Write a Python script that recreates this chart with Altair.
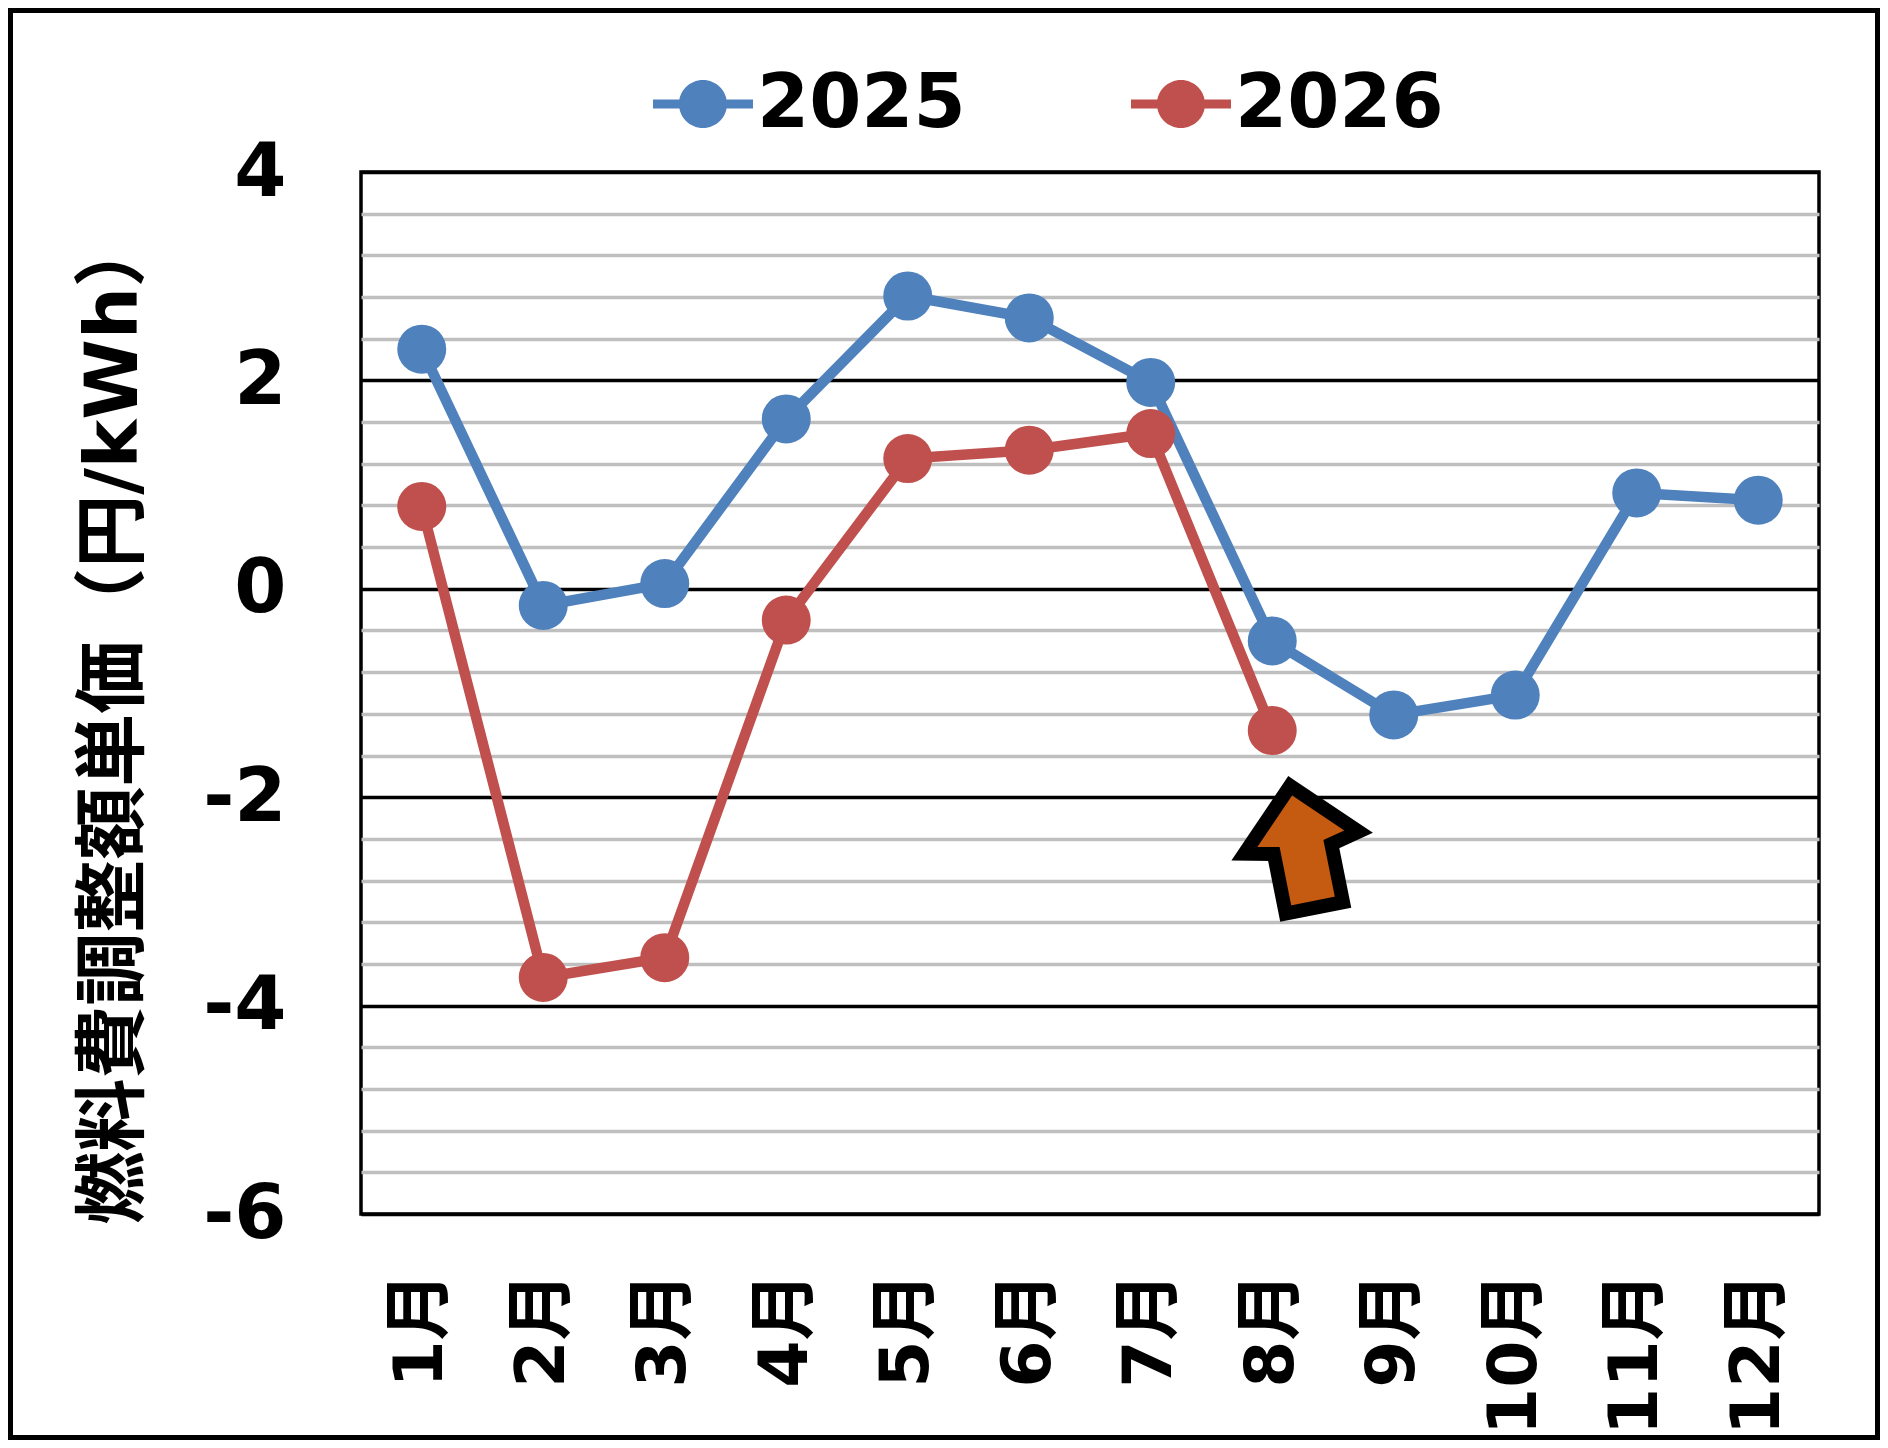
import altair as alt
import pandas as pd

# ---- data ----
months = ["1月", "2月", "3月", "4月", "5月", "6月", "7月", "8月", "9月", "10月", "11月", "12月"]
series_names = ["2025", "2026"]
values_2025 = [2.30, -0.16, 0.05, 1.63, 2.81, 2.60, 1.98, -0.50, -1.21, -1.02, 0.92, 0.85]
values_2026 = [0.79, -3.73, -3.54, -0.30, 1.25, 1.33, 1.49, -1.36]
series_colors = ["#4F81BD", "#C0504D"]
y_tick_values = [-6, -5.6, -5.2, -4.8, -4.4, -4, -3.6, -3.2, -2.8, -2.4, -2, -1.6, -1.2,
                 -0.8, -0.4, 0, 0.4, 0.8, 1.2, 1.6, 2, 2.4, 2.8, 3.2, 3.6, 4]
y_title = "燃料費調整額単価（円/kWh）"
arrow_month = ["8月"]
arrow_value = [-2.5]
arrow_color = "#C55A11"

rows = []
for m, v in zip(months, values_2025):
    rows.append({"month": m, "value": v, "series": "2025"})
for m, v in zip(months, values_2026):
    rows.append({"month": m, "value": v, "series": "2026"})
df = pd.DataFrame(rows)
arrow_df = pd.DataFrame({"month": arrow_month, "value": arrow_value})

# ---- layout ----
W, H = 1458, 1042
PAD = {"left": 353, "top": 164, "right": 61, "bottom": 226}

FONT = "DejaVu Sans, Noto Sans CJK JP, sans-serif"

x_enc = alt.X(
    "month:N",
    scale=alt.Scale(type="point", domain=months, padding=0.5),
    axis=alt.Axis(
        title=None, labelAngle=270, labelAlign="right", labelBaseline="middle",
        labelPadding=58, ticks=False, tickSize=0, domain=False, grid=False,
        labelFont=FONT, labelFontSize=68, labelFontWeight="bold", labelColor="black",
        labelOverlap=False, labelLimit=400,
    ),
)
y_enc = alt.Y(
    "value:Q",
    scale=alt.Scale(domain=[-6, 4], nice=False, zero=False),
    axis=alt.Axis(
        values=y_tick_values, grid=True,
        gridColor={"condition": {"test": "datum.value % 2 === 0", "value": "#000000"},
                   "value": "#BFBFBF"},
        gridWidth=3.6,
        labelExpr="datum.value % 2 === 0 ? toString(datum.value) : ''",
        ticks=False, tickSize=0, domain=False, labelPadding=75,
        labelFont=FONT, labelFontSize=75, labelFontWeight="bold", labelColor="black",
        labelOverlap=False, labelLimit=400,
        title=y_title, titleFont=FONT, titleFontSize=73, titleFontWeight="bold",
        titleColor="black", titleAngle=270, titleAlign="center", titleBaseline="middle",
        titleX=-247, titleY=547, titleLimit=2000,
    ),
)

color_scale = alt.Scale(domain=series_names, range=series_colors)

legend_path = ("M-1,-0.09H1V0.09H-1Z "
               "M0.48,0A0.48,0.48,0,1,1,-0.48,0A0.48,0.48,0,1,1,0.48,0Z")

frame = alt.Chart(alt.Data(values=[{}])).mark_rect(
    fillOpacity=0, stroke="black", strokeWidth=5
).encode(
    x=alt.value(-PAD["left"] + 2.5), x2=alt.value(W + PAD["right"] - 2.5),
    y=alt.value(-PAD["top"] + 2.5), y2=alt.value(H + PAD["bottom"] - 2.5),
)

lines = alt.Chart(df).mark_line(strokeWidth=10.5, strokeJoin="round").encode(
    x=x_enc, y=y_enc,
    color=alt.Color("series:N", scale=color_scale, legend=None),
)

points = alt.Chart(df).mark_point(filled=True, size=2400, opacity=1, strokeWidth=0).encode(
    x=x_enc, y=y_enc,
    color=alt.Color(
        "series:N", scale=color_scale,
        legend=alt.Legend(
            title=None, orient="none", legendX=292, legendY=-118, direction="horizontal",
            symbolType=legend_path, symbolSize=10000, symbolStrokeWidth=0, symbolOpacity=1,
            labelFont=FONT, labelFontSize=75, labelFontWeight="bold", labelColor="black",
            labelOffset=4, columnPadding=165, padding=0, labelLimit=600,
        ),
    ),
)

arrow_path = ("M-0.152,-0.958 L0.880,-0.266 L0.469,-0.078 L0.645,0.797 "
              "L-0.219,0.969 L-0.398,0.070 L-0.841,0.066 Z")
arrow = alt.Chart(arrow_df).mark_point(
    shape=arrow_path, size=17600, filled=True, fill=arrow_color, stroke="black",
    strokeWidth=14, strokeJoin="miter", strokeMiterLimit=10, opacity=1, xOffset=28,
).encode(x=x_enc, y=y_enc)

chart = alt.layer(frame, lines, points, arrow).resolve_scale(
    color="independent"
).resolve_legend(color="independent").properties(
    width=W, height=H, padding=PAD, autosize=alt.AutoSizeParams(type="none"),
    background="white",
).configure_view(stroke="black", strokeWidth=3.5)

chart.save("out.html", embed_options={"renderer": "svg", "actions": False})
